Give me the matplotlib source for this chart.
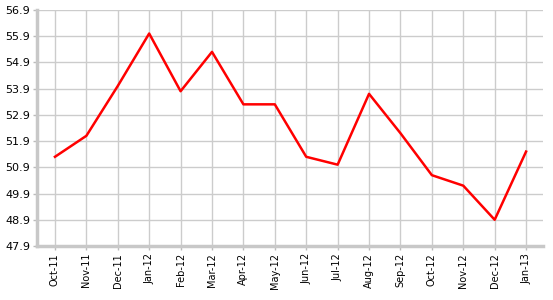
import matplotlib
matplotlib.use("Agg")
import matplotlib.pyplot as plt

months = ["Oct-11", "Nov-11", "Dec-11", "Jan-12", "Feb-12", "Mar-12", "Apr-12", "May-12",
          "Jun-12", "Jul-12", "Aug-12", "Sep-12", "Oct-12", "Nov-12", "Dec-12", "Jan-13"]
values = [51.3, 52.1, 54.0, 56.0, 53.8, 55.3, 53.3, 53.3,
          51.3, 51.0, 53.7, 52.2, 50.6, 50.2, 48.9, 51.5]
yticks = [47.9, 48.9, 49.9, 50.9, 51.9, 52.9, 53.9, 54.9, 55.9, 56.9]

fig = plt.figure(figsize=(5.53, 3.0), dpi=100)
ax = fig.add_axes([0.067, 0.18, 0.915, 0.787])

x = list(range(len(months)))
ax.plot(x, values, color="#ff0000", lw=1.8, zorder=3)

ax.set_xlim(-0.57, len(months) - 1 + 0.54)
ax.set_ylim(yticks[0], yticks[-1])
ax.set_xticks(x)
ax.set_xticklabels(months, rotation=90, fontsize=7)
ax.set_yticks(yticks)
ax.set_yticklabels(["%.1f" % v for v in yticks], fontsize=8)

ax.grid(True, color="#cccccc", lw=1)
ax.set_axisbelow(True)
for s in ["top", "right"]:
    ax.spines[s].set_visible(False)
for s in ["left", "bottom"]:
    ax.spines[s].set_color("#c8c8c8")
    ax.spines[s].set_linewidth(2.5)
ax.tick_params(axis="both", color="#bbbbbb", length=3, width=1, pad=2)

fig.savefig("out.png", dpi=100)
